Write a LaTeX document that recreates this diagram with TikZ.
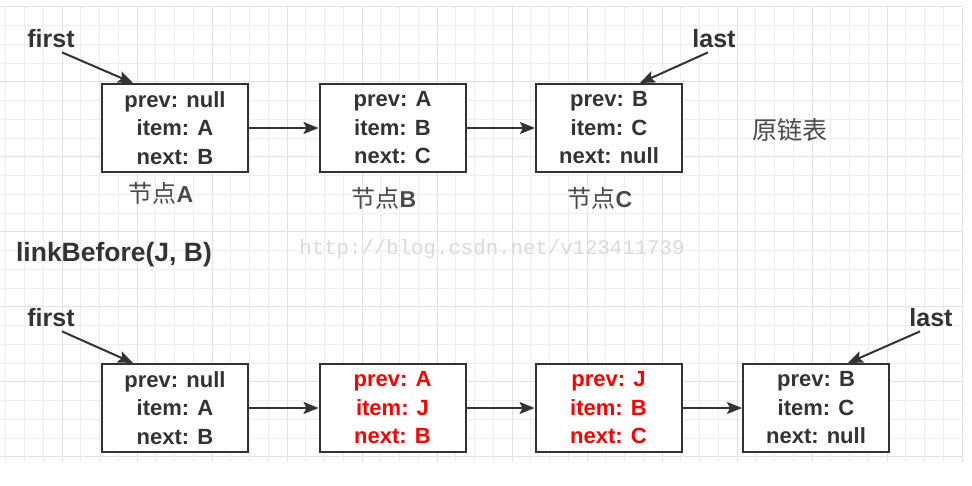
\documentclass[tikz,border=0pt]{standalone}
\usepackage{fontspec}
\setmainfont{Liberation Sans}
\newfontfamily\cjk{Noto Sans CJK SC}
\newfontfamily\wmfont{Liberation Mono}
\usetikzlibrary{arrows.meta}
\definecolor{ink}{HTML}{333333}
\definecolor{soft}{HTML}{4A4A4A}
\definecolor{hot}{HTML}{FF0000}
\definecolor{gridminor}{HTML}{EEEEEE}
\definecolor{gridmajor}{HTML}{E2E2E2}
\definecolor{wmgray}{HTML}{DADADA}

\begin{document}
\begin{tikzpicture}[x=1pt, y=-1pt, >={Stealth[length=15pt, width=12pt, inset=3pt]},
    block/.style={draw=ink, line width=2pt, fill=white, minimum width=146pt, minimum height=88pt,
        inner sep=0pt, align=center, text=ink, font=\fontsize{22}{28.5}\selectfont\bfseries},
    ptr/.style={->, draw=ink, line width=2pt},
    tag/.style={inner sep=1pt, text=ink, font=\fontsize{25}{25}\selectfont\bfseries},
    nodename/.style={inner sep=1pt, text=soft, font=\fontsize{23}{23}\selectfont\bfseries},
    wm/.style={inner sep=0pt, text=wmgray, font=\wmfont\fontsize{20.7}{20.7}\selectfont}]

    % 背景网格
    \useasboundingbox[fill=white] (0,0) rectangle (972,485);
    \foreach \i in {0,...,51}
        \draw[gridminor, line width=0.8pt] ({5.75+18.75*\i},6.7) -- ({5.75+18.75*\i},462);
    \foreach \j in {0,...,24}
        \draw[gridminor, line width=0.8pt] (0,{6.7+18.75*\j}) -- (962,{6.7+18.75*\j});
    \foreach \i in {0,...,12}
        \draw[gridmajor, line width=1pt] ({62+75*\i},6.7) -- ({62+75*\i},462);
    \foreach \j in {0,...,6}
        \draw[gridmajor, line width=1pt] (0,{6.7+75*\j}) -- (962,{6.7+75*\j});

    % 水印
    \node[wm] (site) at (492,249) {http://blog.csdn.net/v123411739};

    % 原链表
    \foreach \n/\x/\p/\i/\t in {A/175/null/A/B, B/392.5/A/B/C, C/609/B/C/null} {
        \node[block] (\n) at (\x,128) {prev: \p\\item: \i\\next: \t};
    }
    \draw[ptr] (A) -- (B);
    \draw[ptr] (B) -- (C);

    \node[tag] (first) at (51,39) {first};
    \draw[ptr] ([shift={(11,3)}]first.south) -- ([xshift=-42pt]A.north);
    \node[tag] (last) at (714,39) {last};
    \draw[ptr] ([shift={(-6,3)}]last.south) -- ([xshift=31pt]C.north);

    \node[nodename] (nameA) at (161,193) {{\cjk\mdseries\fontsize{24}{24}\selectfont 节点}A};
    \node[nodename] (nameB) at (384,198) {{\cjk\mdseries\fontsize{24}{24}\selectfont 节点}B};
    \node[nodename] (nameC) at (600,198) {{\cjk\mdseries\fontsize{24}{24}\selectfont 节点}C};
    \node[nodename, font=\cjk\fontsize{25}{25}\selectfont] (orig) at (790,130) {原链表};

    % linkBefore 之后
    \node[tag, font=\fontsize{26.5}{26.5}\selectfont\bfseries] (call) at (114,255) {linkBefore(J, B)};

    \node[block] (A2) at (175,408) {prev: null\\item: A\\next: B};
    \node[block, text=hot] (J) at (392.5,408) {prev: A\\item: J\\next: B};
    \node[block, text=hot] (B2) at (608.5,408) {prev: J\\item: B\\next: C};
    \node[block] (C2) at (816,408) {prev: B\\item: C\\next: null};
    \draw[ptr] (A2) -- (J);
    \draw[ptr] (J) -- (B2);
    \draw[ptr] (B2) -- (C2);

    \node[tag] (first2) at (51,318) {first};
    \draw[ptr] ([shift={(11,3)}]first2.south) -- ([xshift=-42pt]A2.north);
    \node[tag] (last2) at (931,318) {last};
    \draw[ptr] ([shift={(-11,3)}]last2.south) -- ([xshift=32pt]C2.north);

\end{tikzpicture}
\end{document}
